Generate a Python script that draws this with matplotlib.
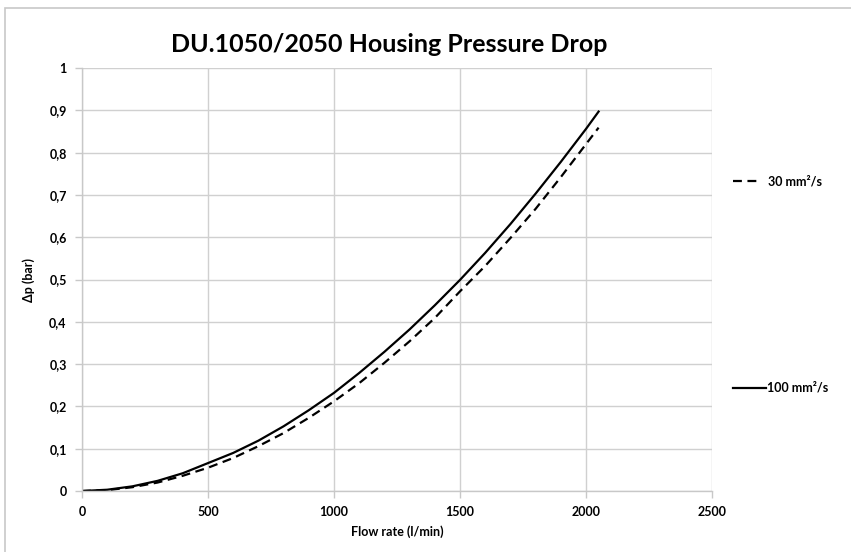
import matplotlib
matplotlib.use("Agg")
import matplotlib.pyplot as plt
from matplotlib.patches import Rectangle

plt.rcParams['font.family'] = ['Lato', 'DejaVu Sans']
plt.rcParams['font.weight'] = 'bold'

# values
flow = [0, 100, 200, 300, 400, 500, 600, 700, 800, 900, 1000,
        1100, 1200, 1300, 1400, 1500, 1600, 1700, 1800, 1900, 2000, 2050]
dp_30 = [0, 0.002, 0.009, 0.020, 0.036, 0.055, 0.078, 0.106, 0.137, 0.173, 0.212,
         0.255, 0.303, 0.354, 0.409, 0.472, 0.532, 0.598, 0.667, 0.742, 0.820, 0.859]
dp_100 = [0, 0.003, 0.011, 0.024, 0.042, 0.066, 0.090, 0.119, 0.153, 0.191, 0.232,
          0.279, 0.329, 0.382, 0.439, 0.499, 0.563, 0.631, 0.703, 0.778, 0.856, 0.897]

x_ticks = [0, 500, 1000, 1500, 2000, 2500]
y_ticks = [0, 0.1, 0.2, 0.3, 0.4, 0.5, 0.6, 0.7, 0.8, 0.9, 1]
y_labels = ['0', '0,1', '0,2', '0,3', '0,4', '0,5', '0,6', '0,7', '0,8', '0,9', '1']

fig = plt.figure(figsize=(8.51, 5.52), dpi=100)
# light grey chart-area border (cut off at right and bottom)
fig.patches.append(Rectangle((5/851, -0.1), 1.2, 1.1 - 8/552,
                             transform=fig.transFigure, fill=False,
                             edgecolor='#c8c8c8', linewidth=1.2))

ax = fig.add_axes([82/851, 1 - 491/552, 630/851, 423/552])

l30, = ax.plot(flow, dp_30, color='black', linestyle=(0, (4, 2.5)), linewidth=1.6)
l100, = ax.plot(flow, dp_100, color='black', linestyle='-', linewidth=1.6)

ax.set_xlim(0, 2500)
ax.set_ylim(0, 1)
ax.set_xticks(x_ticks)
ax.set_xticklabels([str(v) for v in x_ticks])
ax.set_yticks(y_ticks)
ax.set_yticklabels(y_labels)
ax.grid(True, color='#d0d0d0', linewidth=1)
ax.set_axisbelow(True)
for s in ['top', 'right']:
    ax.spines[s].set_visible(False)
for s in ['left', 'bottom']:
    ax.spines[s].set_color('#c8c8c8')
    ax.spines[s].set_linewidth(1)
ax.tick_params(axis='both', colors='#c8c8c8', length=5, width=1,
               labelcolor='black', labelsize=9, pad=6)

ax.set_xlabel('Flow rate (l/min)', fontsize=9, fontweight='bold', labelpad=5)
ax.set_ylabel('Δp (bar)', fontsize=9, fontweight='bold', labelpad=10)
fig.text(389/851, 1 - 45/552, 'DU.1050/2050 Housing Pressure Drop',
         fontsize=18, fontweight='bold', ha='center', va='center')

fig.legend([l30], ['30 mm²/s'], loc='center left',
           bbox_to_anchor=(722/851, 1 - 181/552), frameon=False,
           fontsize=9, handlelength=2.2, handletextpad=0.6)
fig.legend([l100], ['100 mm²/s'], loc='center left',
           bbox_to_anchor=(722/851, 1 - 388/552), frameon=False,
           fontsize=9, handlelength=2.6, handletextpad=0.1)

fig.savefig('out.png', dpi=100)
